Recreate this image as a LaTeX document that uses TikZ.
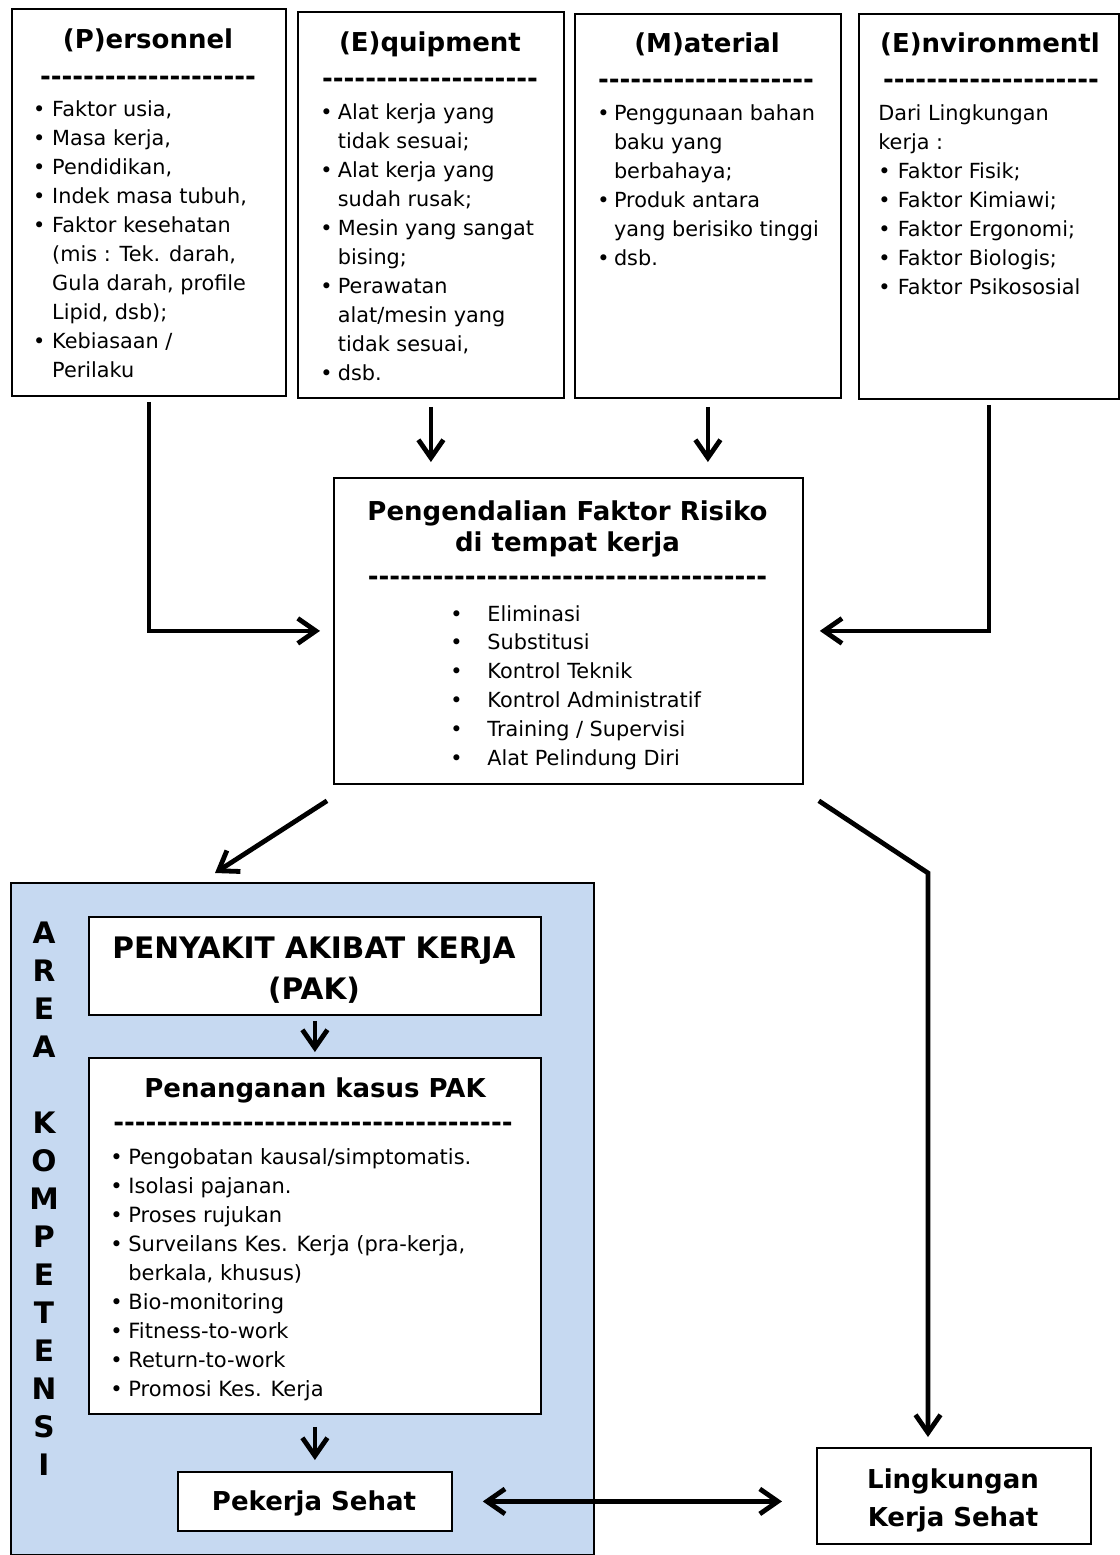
\documentclass[tikz,border=0pt]{standalone}
\usepackage{fontspec}
\setmainfont{DejaVu Sans}
\usetikzlibrary{arrows.meta}
\definecolor{areablue}{RGB}{198,217,241}
\newlength\bw
\newcommand\bl[1]{\makebox[\bw][l]{\textbullet}#1}
\newcommand\cl[1]{\hspace*{\bw}#1}
\newcommand\hy[1]{\foreach \i in {1,...,#1}{-\kern0pt}}
\newcommand\bodyfont{\fontsize{10.4}{14.5}\selectfont}
\newcommand\headfont{\bfseries\fontsize{13}{16}\selectfont}
\tikzset{
  box/.style={draw, line width=0.9pt, inner sep=0pt, anchor=north west, fill=white},
  bluebox/.style={box, fill=areablue},
  txt/.style={inner sep=0pt, anchor=base west},
  ctr/.style={inner sep=0pt, anchor=base},
  tipshape/.style={},
  arr/.style={line width=2.4pt, -{Straight Barb[length=9pt,width=12.5pt]}},
  arrtwo/.style={line width=2.4pt, {Straight Barb[length=9pt,width=12.5pt]}-{Straight Barb[length=9pt,width=12.5pt]}}
}
\begin{document}
\begin{tikzpicture}[x=0.5pt,y=-0.5pt]
\useasboundingbox (0,0) rectangle (1120,1555);
\fill[white] (0,0) rectangle (1120,1555);

% ---------- top boxes ----------
\node[box, minimum width=137pt, minimum height=193.5pt] (P) at (11,8) {};
\node[box, minimum width=133pt, minimum height=193pt] (E1) at (297,11) {};
\node[box, minimum width=133pt, minimum height=192pt] (M) at (574,13) {};
\node[box, minimum width=130pt, minimum height=192.5pt] (E2) at (858,13) {};

% Personnel
\node[ctr] (Pt) at (148,48) {\headfont (P)ersonnel};
\node[ctr] (Pd) at (148,85.5) {\headfont\hy{20}};
\node[txt] (Pl) at (32.6,116) {\setlength\bw{9.6pt}\parbox[t]{130pt}{\bodyfont
\bl{Faktor usia,}\\
\bl{Masa kerja,}\\
\bl{Pendidikan,}\\
\bl{Indek masa tubuh,}\\
\bl{Faktor kesehatan}\\
\cl{(mis : Tek. darah,}\\
\cl{Gula darah, profile}\\
\cl{Lipid, dsb);}\\
\bl{Kebiasaan /}\\
\cl{Perilaku}}};

% Equipment
\node[ctr] (E1t) at (430,51) {\headfont (E)quipment};
\node[ctr] (E1d) at (430,87) {\headfont\hy{20}};
\node[txt] (E1l) at (320,119) {\setlength\bw{8.75pt}\parbox[t]{130pt}{\bodyfont
\bl{Alat kerja yang}\\
\cl{tidak sesuai;}\\
\bl{Alat kerja yang}\\
\cl{sudah rusak;}\\
\bl{Mesin yang sangat}\\
\cl{bising;}\\
\bl{Perawatan}\\
\cl{alat/mesin yang}\\
\cl{tidak sesuai,}\\
\bl{dsb.}}};

% Material
\node[ctr] (Mt) at (707,52.5) {\headfont (M)aterial};
\node[ctr] (Md) at (706,88) {\headfont\hy{20}};
\node[txt] (Ml) at (597,120) {\setlength\bw{8.3pt}\parbox[t]{130pt}{\bodyfont
\bl{Penggunaan bahan}\\
\cl{baku yang}\\
\cl{berbahaya;}\\
\bl{Produk antara}\\
\cl{yang berisiko tinggi}\\
\bl{dsb.}}};

% Environment
\node[ctr] (E2t) at (990,52.5) {\headfont (E)nvironmentl};
\node[ctr] (E2d) at (991,88) {\headfont\hy{20}};
\node[txt] (E2l) at (878,120) {\setlength\bw{9.75pt}\parbox[t]{130pt}{\bodyfont
Dari Lingkungan\\
kerja :\\
\bl{Faktor Fisik;}\\
\bl{Faktor Kimiawi;}\\
\bl{Faktor Ergonomi;}\\
\bl{Faktor Biologis;}\\
\bl{Faktor Psikososial}}};

% ---------- central box ----------
\node[box, minimum width=234.5pt, minimum height=153pt] (C) at (333,477) {};
\node[ctr] (Ct1) at (567.5,520) {\headfont Pengendalian Faktor Risiko};
\node[ctr] (Ct2) at (567.5,551.7) {\headfont di tempat kerja};
\node[ctr] (Cd) at (567.5,585.5) {\headfont\hy{37}};
\node[txt] (Cl) at (450,621) {\setlength\bw{18.5pt}\parbox[t]{180pt}{\fontsize{10.4}{14.4}\selectfont
\bl{Eliminasi}\\
\bl{Substitusi}\\
\bl{Kontrol Teknik}\\
\bl{Kontrol Administratif}\\
\bl{Training / Supervisi}\\
\bl{Alat Pelindung Diri}}};

% ---------- area kompetensi ----------
\node[bluebox, minimum width=291.5pt, minimum height=336pt] (Blue) at (10,882) {};
\node[ctr] (Area) at (44,943) {\parbox[t]{30pt}{\centering\bfseries\fontsize{14.8}{19.035}\selectfont
A\\R\\E\\A\\\mbox{}\\K\\O\\M\\P\\E\\T\\E\\N\\S\\I}};

\node[box, minimum width=226pt, minimum height=49pt] (PAK) at (88,916) {};
\node[ctr] (PAKt1) at (314,958) {\bfseries\fontsize{14.8}{20}\selectfont PENYAKIT AKIBAT KERJA};
\node[ctr] (PAKt2) at (314,999) {\bfseries\fontsize{14.8}{20}\selectfont (PAK)};

\node[box, minimum width=226pt, minimum height=178pt] (PEN) at (88,1057) {};
\node[ctr] (PENt) at (315,1097.5) {\headfont Penanganan kasus PAK};
\node[ctr] (PENd) at (313,1131) {\headfont\hy{37}};
\node[txt] (PENl) at (110,1164.5) {\setlength\bw{9pt}\parbox[t]{220pt}{\fontsize{10.5}{14.53}\selectfont
\bl{Pengobatan kausal/simptomatis.}\\
\bl{Isolasi pajanan.}\\
\bl{Proses rujukan}\\
\bl{Surveilans Kes. Kerja (pra-kerja,}\\
\cl{berkala, khusus)}\\
\bl{Bio-monitoring}\\
\bl{Fitness-to-work}\\
\bl{Return-to-work}\\
\bl{Promosi Kes. Kerja}}};

\node[box, minimum width=137pt, minimum height=29.5pt] (PS) at (177,1471) {};
\node[ctr] (PSt) at (314,1510.5) {\headfont Pekerja Sehat};

% ---------- lingkungan ----------
\node[box, minimum width=137pt, minimum height=48pt] (LKS) at (816,1447) {};
\node[ctr] (LKSt1) at (953,1488) {\headfont Lingkungan};
\node[ctr] (LKSt2) at (953,1526) {\headfont Kerja Sehat};

% ---------- connectors ----------
\coordinate (e1c) at (E1.south |- C.north);
\coordinate (mc) at (M.south |- C.north);
\coordinate (k1) at (928,873);
\coordinate (k2) at (k1 |- LKS.north);
\coordinate (d2) at (PS.east -| LKS.west);

\draw[arr] ([yshift=-2.5pt]P.south) |- ([xshift=-6.5pt]C.west);
\draw[arr] ([yshift=-4pt]E1.south) -- ([yshift=7.5pt]e1c);
\draw[arr] ([yshift=-4pt]M.south) -- ([yshift=7.5pt]mc);
\draw[arr] ([yshift=-2.5pt]E2.south) |- ([xshift=8pt]C.east);
\draw[arr] ([shift={(-3pt,-8pt)}]C.south west) -- ([shift={(102.5pt,4.5pt)}]Blue.north west);
\draw[arr] ([shift={(7.5pt,-8pt)}]C.south east) -- (k1) -- ([yshift=5pt]k2);
\draw[arr] ([yshift=-2.5pt]PAK.south) -- ([yshift=2.5pt]PEN.north);
\draw[arr] ([yshift=-6pt]PEN.south) -- ([yshift=5.5pt]PS.north);
\draw[arrtwo] ([xshift=15pt]PS.east) -- ([xshift=-17pt]d2);
\end{tikzpicture}
\end{document}
